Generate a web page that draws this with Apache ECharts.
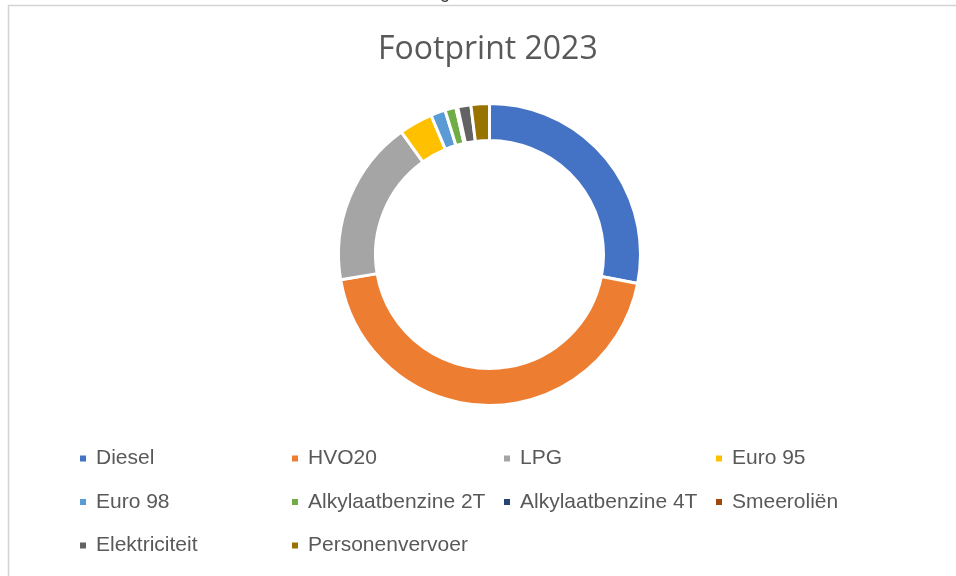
<!DOCTYPE html>
<html>
<head>
<meta charset="utf-8">
<script src="https://cdn.jsdelivr.net/npm/echarts@6/dist/echarts.min.js"></script>
<style>
  html, body { margin: 0; padding: 0; background: #fff; }
  #footprintChart { width: 956px; height: 576px; }
</style>
</head>
<body>
<div id="footprintChart"></div>
<script>
const categories = ["Diesel", "HVO20", "LPG", "Euro 95", "Euro 98", "Alkylaatbenzine 2T", "Alkylaatbenzine 4T", "Smeeroliën", "Elektriciteit", "Personenvervoer"];
const shares = [28.0, 44.1, 17.7, 3.6, 1.56, 1.17, 0.1, 0.1, 1.4, 1.97];
const colors = ["#4472C4", "#ED7D31", "#A5A5A5", "#FFC000", "#5B9BD5", "#70AD47", "#264478", "#9E480E", "#636363", "#997300"];

var chartDom = document.getElementById("footprintChart");
var myChart = echarts.init(chartDom, null, { renderer: "canvas" });

let pieData = categories.map((name, i) => ({ name: name, value: shares[i] }));

var option = {
  animation: false,
  color: colors,
  title: {
    text: "Footprint 2023",
    left: 373,
    top: 29,
    textStyle: {
      fontFamily: "Open Sans",
      fontSize: 32,
      fontWeight: "normal",
      color: "#595959",
    },
  },
  // rand van het kader
  graphic: [
    {
      type: "rect",
      shape: { x: 8.5, y: 5.5, width: 1000, height: 620 },
      style: { fill: "none", stroke: "#d4d4d4", lineWidth: 1.5 },
      silent: true,
    },
    {
      type: "text",
      x: 440,
      y: -16,
      style: { text: "g", font: "18px 'Liberation Sans'", fill: "#404040" },
      silent: true,
    },
  ],
  legend: {
    left: 73,
    top: 437,
    width: 870,
    orient: "horizontal",
    icon: "rect",
    itemWidth: 8,
    itemHeight: 8,
    itemGap: 10.5,
    selectedMode: false,
    textStyle: {
      fontFamily: "Liberation Sans",
      fontSize: 21,
      color: "#595959",
      width: 183.5,
      lineHeight: 33,
      padding: [0, 0, 0, 4],
      overflow: "none",
    },
    data: categories,
  },
  series: [
    {
      name: "Footprint 2023",
      type: "pie",
      center: [489.5, 254.5],
      radius: [114, 151],
      startAngle: 90,
      clockwise: true,
      avoidLabelOverlap: false,
      label: { show: false },
      labelLine: { show: false },
      emphasis: { disabled: true },
      itemStyle: { borderColor: "#ffffff", borderWidth: 3 },
      data: pieData,
    },
  ],
};
option && myChart.setOption(option);
</script>
</body>
</html>
